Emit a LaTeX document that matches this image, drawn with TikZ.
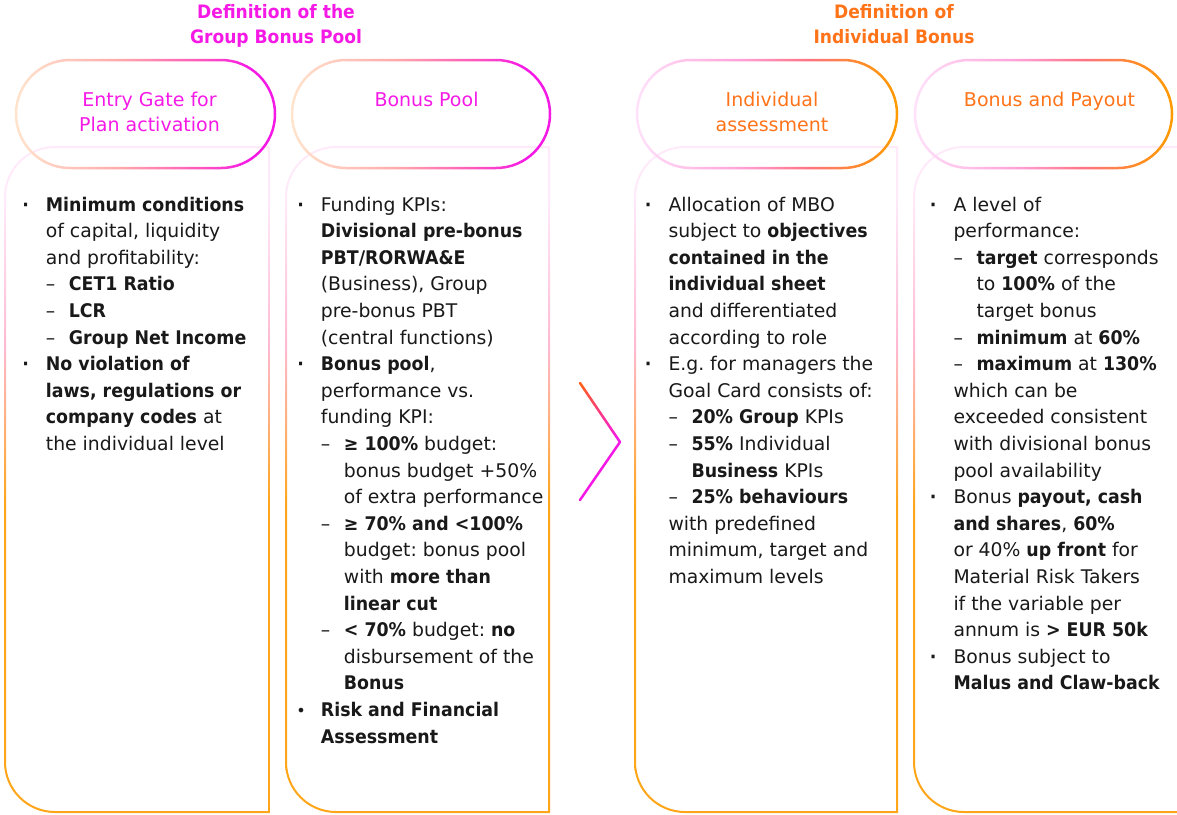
\documentclass[tikz,border=0pt]{standalone}
\usepackage{fontspec}
\setmainfont{DejaVu Sans}[BoldFeatures={FakeStretch=0.925}]
\usetikzlibrary{calc}
\frenchspacing
\definecolor{mag}{RGB}{245,25,230}
\definecolor{org}{RGB}{255,115,25}
\definecolor{txt}{RGB}{25,25,25}
\definecolor{chO}{RGB}{255,95,25}
\definecolor{bOr}{RGB}{255,165,25}
\definecolor{bPk}{RGB}{255,185,210}
\definecolor{bPale}{RGB}{255,234,249}
\definecolor{pAa}{RGB}{255,228,205}
\definecolor{pAb}{RGB}{255,170,170}
\definecolor{pAc}{RGB}{255,90,185}
\definecolor{pBa}{RGB}{255,226,250}
\definecolor{pBb}{RGB}{255,160,215}
\definecolor{pBc}{RGB}{255,115,130}
\definecolor{pBd}{RGB}{255,140,40}
\definecolor{pBe}{RGB}{255,155,0}
\pgfdeclareverticalshading{boxsh}{100bp}{color(0bp)=(bOr); color(25bp)=(bOr); color(48bp)=(bOr); color(60bp)=(bPk); color(71bp)=(bPale); color(100bp)=(bPale)}
\pgfdeclarehorizontalshading{pillA}{100bp}{color(0bp)=(pAa); color(25bp)=(pAa); color(45bp)=(pAb); color(60bp)=(pAc); color(70bp)=(mag); color(100bp)=(mag)}
\pgfdeclarehorizontalshading{pillB}{100bp}{color(0bp)=(pBa); color(25bp)=(pBa); color(45bp)=(pBb); color(58bp)=(pBc); color(68bp)=(pBd); color(75bp)=(pBe); color(100bp)=(pBe)}
% left-rounded box outline: x1 y1 x2 y2 r (y grows downwards)
\newcommand\lboxpath[5]{(#3,#2) -- ({#1+#5},#2) .. controls ({#1+0.4477*#5},#2) and (#1,{#2+0.4477*#5}) .. (#1,{#2+#5}) -- (#1,{#4-#5}) .. controls (#1,{#4-0.4477*#5}) and ({#1+0.4477*#5},#4) .. ({#1+#5},#4) -- (#3,#4) -- cycle}
\newcommand\cbul{\leavevmode\llap{\textbf{·}\hspace{17pt}}}
\newcommand\cbig{\leavevmode\llap{\raisebox{0.3pt}{\fontsize{16pt}{16pt}\selectfont •}\hspace{15pt}}}
\newcommand\cdash{\makebox[23pt][l]{–}}
\newcommand\cdcont{\hspace*{23pt}}
\begin{document}
\begin{tikzpicture}[x=1pt,y=-1pt,
  body/.style={anchor=base west, inner sep=0pt, text=txt, font=\fontsize{18.8pt}{26.6pt}\selectfont},
  head/.style={anchor=base, inner sep=0pt, align=center, font=\fontsize{19pt}{25pt}\selectfont},
  ttl/.style={anchor=base, inner sep=0pt, align=center, font=\bfseries\fontsize{18.5pt}{25pt}\selectfont},
  chev/.style={line width=2.5pt, line cap=round}]
\useasboundingbox (0,0) rectangle (1177,814);
\clip (0,0) rectangle (1177,814);
% content boxes
\shade[shading=boxsh, even odd rule] \lboxpath{4}{146}{270}{813}{51} \lboxpath{6}{148}{268}{811}{49};
\shade[shading=boxsh, even odd rule] \lboxpath{285}{146}{550}{813}{51} \lboxpath{287}{148}{548}{811}{49};
\shade[shading=boxsh, even odd rule] \lboxpath{634}{146}{898}{813}{51} \lboxpath{636}{148}{896}{811}{49};
\shade[shading=boxsh, even odd rule] \lboxpath{913}{146}{1200}{813}{51} \lboxpath{915}{148}{1198}{811}{49};
% header pills
\shade[shading=pillA, even odd rule] [rounded corners=55.2pt] (14.75,58.75) rectangle (276.25,169.25) [rounded corners=52.7pt] (17.25,61.25) rectangle (273.75,166.75);
\shade[shading=pillA, even odd rule] [rounded corners=55.2pt] (290.75,58.75) rectangle (551.25,169.25) [rounded corners=52.7pt] (293.25,61.25) rectangle (548.75,166.75);
\shade[shading=pillB, even odd rule] [rounded corners=55.2pt] (635.75,58.75) rectangle (898.25,169.25) [rounded corners=52.7pt] (638.25,61.25) rectangle (895.75,166.75);
\shade[shading=pillB, even odd rule] [rounded corners=55.2pt] (913.75,58.75) rectangle (1173.25,169.25) [rounded corners=52.7pt] (916.25,61.25) rectangle (1170.75,166.75);
% titles (base = last line)
\node[ttl, text=mag] (t1) at (276,43.3) {Definition of the\\Group Bonus Pool};
\node[ttl, text=org] (t2) at (894,43.3) {Definition of\\Individual Bonus};
% headers
\node[head, text=mag] (h1) at (149.5,131.7) {Entry Gate for\\Plan activation};
\node[head, text=mag] (h2) at (426.5,106.7) {Bonus Pool};
\node[head, text=org] (h3) at (772,131.7) {Individual\\assessment};
\node[head, text=org] (h4) at (1049.5,106.7) {Bonus and Payout};
% chevron
\coordinate (ch1) at (580,383);
\coordinate (ch2) at (620,442);
\coordinate (ch3) at (580,500);
\draw[chev, mag] (ch2) -- (ch3);
\foreach \i in {0,...,11}{
  \pgfmathtruncatemacro\pc{100-100*\i/11}
  \draw[chev, color=chO!\pc!mag] ($(ch1)!\i/12!(ch2)$) -- ($(ch1)!{(\i+1)/12}!(ch2)$);
}
% column texts
\node[body] (c1) at (45.7,211) {\parbox[t]{300pt}{%
\cbul\textbf{Minimum conditions}\\
of capital, liquidity\\
and profitability:\\
\cdash\textbf{CET1 Ratio}\\
\cdash\textbf{LCR}\\
\cdash\textbf{Group Net Income}\\
\cbul\textbf{No violation of}\\
\textbf{laws, regulations or}\\
\textbf{company codes} at\\
the individual level}};
\node[body] (c2) at (320.7,211) {\parbox[t]{300pt}{%
\cbul Funding KPIs:\\
\textbf{Divisional pre-bonus}\\
\textbf{PBT/RORWA\&E}\\
(Business), Group\\
pre-bonus PBT\\
(central functions)\\
\cbul\textbf{Bonus pool},\\
performance vs.\\
funding KPI:\\
\cdash\textbf{≥ 100\%} budget:\\
\cdcont bonus budget +50\%\\
\cdcont of extra performance\\
\cdash\textbf{≥ 70\% and <100\%}\\
\cdcont budget: bonus pool\\
\cdcont with \textbf{more than}\\
\cdcont\textbf{linear cut}\\
\cdash\textbf{< 70\%} budget: \textbf{no}\\
\cdcont disbursement of the\\
\cdcont\textbf{Bonus}\\
\cbig\textbf{Risk and Financial}\\
\textbf{Assessment}}};
\node[body] (c3) at (668.3,211) {\parbox[t]{300pt}{%
\cbul Allocation of MBO\\
subject to \textbf{objectives}\\
\textbf{contained in the}\\
\textbf{individual sheet}\\
and differentiated\\
according to role\\
\cbul E.g. for managers the\\
Goal Card consists of:\\
\cdash\textbf{20\% Group} KPIs\\
\cdash\textbf{55\%} Individual\\
\cdcont\textbf{Business} KPIs\\
\cdash\textbf{25\% behaviours}\\
with predefined\\
minimum, target and\\
maximum levels}};
\node[body] (c4) at (953.3,211) {\parbox[t]{300pt}{%
\cbul A level of\\
performance:\\
\cdash\textbf{target} corresponds\\
\cdcont to \textbf{100\%} of the\\
\cdcont target bonus\\
\cdash\textbf{minimum} at \textbf{60\%}\\
\cdash\textbf{maximum} at \textbf{130\%}\\
which can be\\
exceeded consistent\\
with divisional bonus\\
pool availability\\
\cbul Bonus \textbf{payout, cash}\\
\textbf{and shares}, \textbf{60\%}\\
or 40\% \textbf{up front} for\\
Material Risk Takers\\
if the variable per\\
annum is \textbf{> EUR 50k}\\
\cbul Bonus subject to\\
\textbf{Malus and Claw-back}}};
\end{tikzpicture}
\end{document}
